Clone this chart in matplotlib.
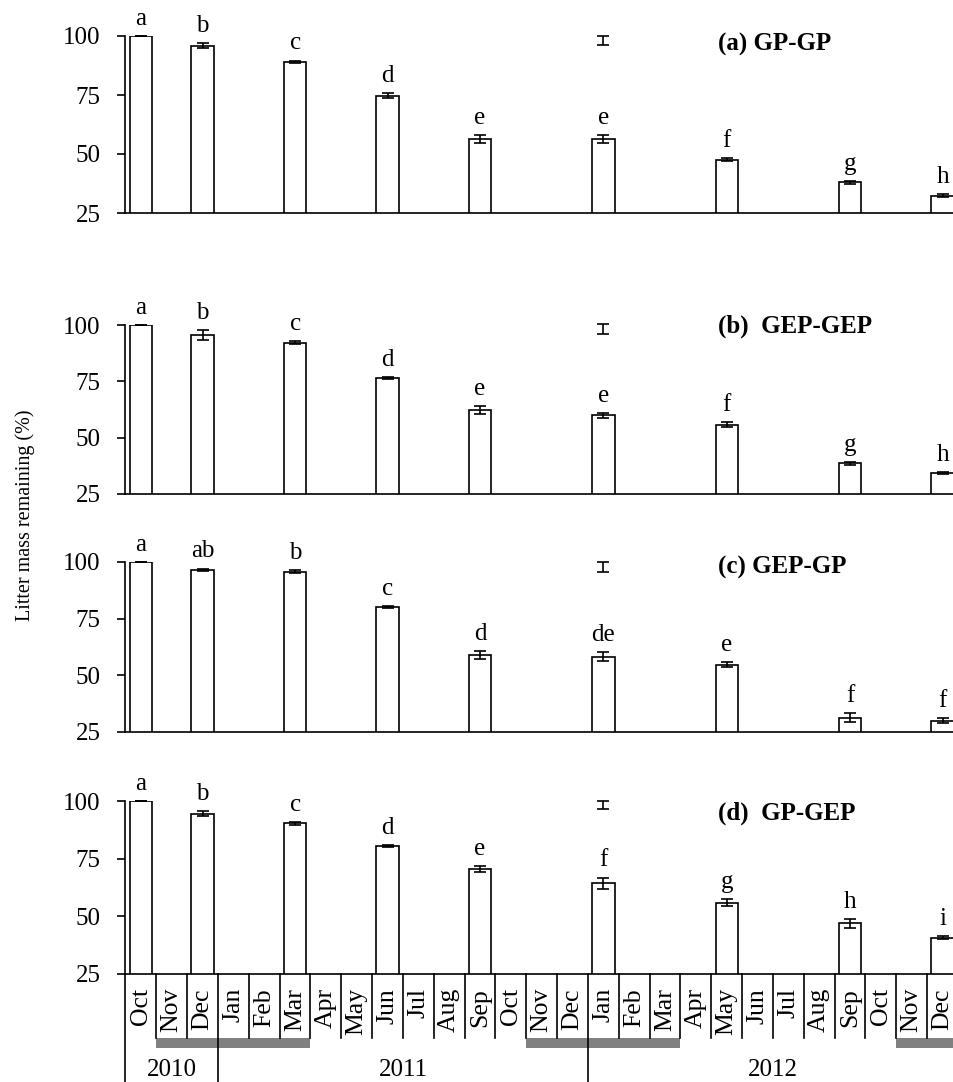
import matplotlib
matplotlib.use('Agg')
import matplotlib.pyplot as plt
from matplotlib.patches import Rectangle

plt.rcParams['font.family'] = ['Liberation Serif', 'DejaVu Serif']

# ---------------- data ----------------
months = ['Oct', 'Nov', 'Dec',
          'Jan', 'Feb', 'Mar', 'Apr', 'May', 'Jun', 'Jul', 'Aug', 'Sep', 'Oct', 'Nov', 'Dec',
          'Jan', 'Feb', 'Mar', 'Apr', 'May', 'Jun', 'Jul', 'Aug', 'Sep', 'Oct', 'Nov', 'Dec']
month_years = [2010] * 3 + [2011] * 12 + [2012] * 12
years = [2010, 2011, 2012]

sample_dates = [('Oct', 2010), ('Dec', 2010), ('Mar', 2011), ('Jun', 2011), ('Sep', 2011),
                ('Jan', 2012), ('May', 2012), ('Sep', 2012), ('Dec', 2012)]
winter_periods = [(('Nov', 2010), ('Mar', 2011)),
                  (('Nov', 2011), ('Mar', 2012)),
                  (('Nov', 2012), ('Dec', 2012))]

panel_titles = ['(a) GP-GP', '(b)  GEP-GEP', '(c) GEP-GP', '(d)  GP-GEP']

mass_a = [100, 95.9, 89.1, 74.7, 56.4, 56.4, 47.5, 38.0, 32.3]
err_a = [0.0, 1.0, 0.5, 1.0, 1.8, 1.8, 0.6, 0.5, 0.7]
letters_a = ['a', 'b', 'c', 'd', 'e', 'e', 'f', 'g', 'h']

mass_b = [100, 95.7, 92.2, 76.5, 62.1, 59.9, 55.8, 38.6, 34.3]
err_b = [0.0, 2.2, 0.6, 0.3, 1.8, 1.2, 1.2, 0.7, 0.4]
letters_b = ['a', 'b', 'c', 'd', 'e', 'e', 'f', 'g', 'h']

mass_c = [100, 96.6, 95.7, 80.2, 59.0, 58.2, 54.7, 31.3, 30.0]
err_c = [0.0, 0.5, 0.7, 0.5, 1.8, 2.0, 1.2, 2.1, 1.1]
letters_c = ['a', 'ab', 'b', 'c', 'd', 'de', 'e', 'f', 'f']

mass_d = [100, 94.5, 90.3, 80.4, 70.6, 64.3, 55.9, 47.0, 40.7]
err_d = [0.0, 1.2, 0.6, 0.5, 1.3, 2.5, 1.5, 2.0, 0.7]
letters_d = ['a', 'b', 'c', 'd', 'e', 'f', 'g', 'h', 'i']

# stray error bar drawn at Jan 2012 in each panel
stray_date = ('Jan', 2012)
stray_mean = [98.1, 98.2, 97.8, 98.3]
stray_err = [1.9, 2.2, 2.3, 1.8]

yticks = [25, 50, 75, 100]

# ---------------- layout ----------------
W, H = 954, 1082
fig = plt.figure(figsize=(W / 100, H / 100), dpi=100)

timeline = list(zip(months, month_years))
sample_pos = [timeline.index(d) for d in sample_dates]
stray_pos = timeline.index(stray_date)

left_px, right_px = 125.5, 958.0
ax_left = left_px / W
ax_width = (right_px - left_px) / W
panel_px = [(36, 213), (325, 494), (562, 732), (801, 974)]
title_yfrac = [0.955, 0.99, 0.965, 0.93]

series = [(mass_a, err_a, letters_a), (mass_b, err_b, letters_b),
          (mass_c, err_c, letters_c), (mass_d, err_d, letters_d)]

LW = 1.2
FS = 18
for i, ((top, bot), (vals, errs, lets)) in enumerate(zip(panel_px, series)):
    ax = fig.add_axes([ax_left, (H - bot) / H, ax_width, (bot - top) / H])
    ax.bar(sample_pos, vals, width=0.72, color='white', edgecolor='black',
           linewidth=LW, zorder=2)
    eb = ax.errorbar(sample_pos, vals, yerr=errs, fmt='none', ecolor='black',
                     elinewidth=LW, capsize=4.3, capthick=LW, zorder=3)
    for art in eb.get_children():
        art.set_clip_on(False)
    sb = ax.errorbar([stray_pos], [stray_mean[i]], yerr=[stray_err[i]], fmt='none',
                     ecolor='black', elinewidth=LW, capsize=4.3, capthick=LW, zorder=3)
    for art in sb.get_children():
        art.set_clip_on(False)
    for x, v, e, l in zip(sample_pos, vals, errs, lets):
        ax.annotate(l, (x, v + e), xytext=(0, 8), textcoords='offset points',
                    ha='center', va='baseline', fontsize=FS, annotation_clip=False)
    ax.text(0.712, title_yfrac[i], panel_titles[i], transform=ax.transAxes,
            ha='left', va='center', fontsize=FS, fontweight='bold')
    ax.set_xlim(-0.5, len(months) - 0.5)
    ax.set_ylim(25, 100)
    ax.set_yticks(yticks)
    ax.set_yticklabels([str(t) for t in yticks], fontsize=FS)
    ax.set_xticks([])
    ax.tick_params(axis='y', direction='out', length=5.8, width=LW, pad=12)
    for s in ['top', 'right']:
        ax.spines[s].set_visible(False)
    for s in ['left', 'bottom']:
        ax.spines[s].set_linewidth(LW)
    ax.patch.set_alpha(0)

# ---------------- month / year table ----------------
tab_top = 974
axt = fig.add_axes([ax_left, 0, ax_width, (H - tab_top) / H])
axt.set_xlim(-0.5, len(months) - 0.5)
axt.set_ylim(H, tab_top)
axt.axis('off')

cell_bottom = 1038
for k in range(len(months)):
    xb = k - 0.5
    if k == 0 or month_years[k] != month_years[k - 1]:
        axt.plot([xb, xb], [tab_top, H], color='black', lw=LW, clip_on=False)
    else:
        axt.plot([xb, xb], [tab_top, cell_bottom], color='black', lw=LW, clip_on=False)
    axt.text(k, 988, months[k], rotation=90, ha='center', va='top', fontsize=18.5)

for (s, e) in winter_periods:
    i0 = timeline.index(s)
    i1 = timeline.index(e)
    axt.add_patch(Rectangle((i0 - 0.5, 1038), (i1 - i0 + 1), 10,
                            facecolor='#808080', edgecolor='none', clip_on=False))

for y in years:
    idx = [k for k, yy in enumerate(month_years) if yy == y]
    xc = (idx[0] + idx[-1]) / 2
    axt.text(xc, 1070, str(y), ha='center', va='center', fontsize=FS)

fig.text(25 / W, 1 - 515 / H, 'Litter mass remaining (%)', rotation=90,
         ha='center', va='center', fontsize=14.5)

fig.savefig('out.png', dpi=100)
